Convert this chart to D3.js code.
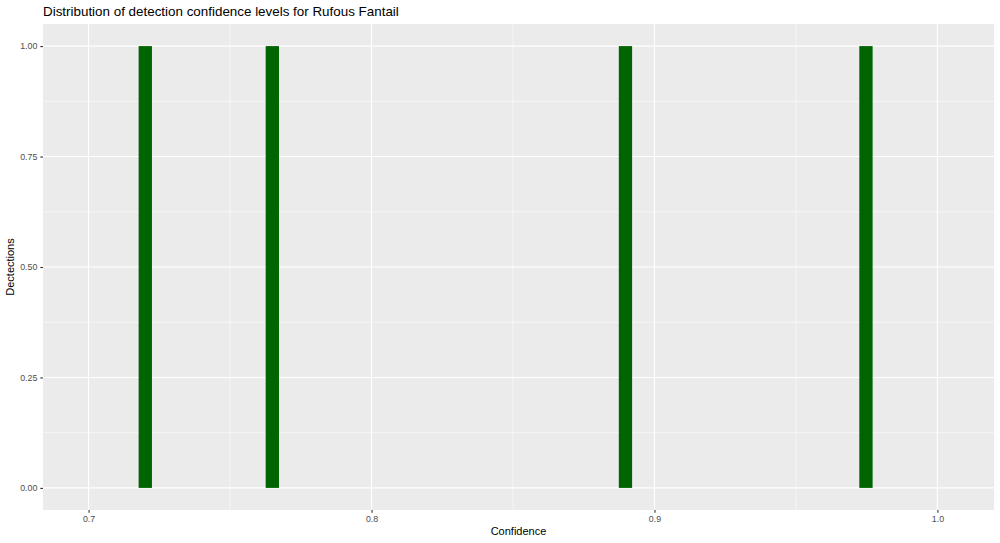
<!DOCTYPE html>
<html><head><meta charset="utf-8">
<script src="https://cdn.jsdelivr.net/npm/d3@7"></script>
<style>body{margin:0;background:#fff}svg{display:block}text{font-family:"Liberation Sans",Arial,sans-serif}</style>
</head><body><svg id="c" width="1000" height="543"></svg>
<script>
const binStarts = [0.7177, 0.7626, 0.8874, 0.9724];
const binEnds   = [0.7224, 0.7673, 0.8921, 0.9771];
const counts    = [1, 1, 1, 1];
const xTicks = [0.7, 0.8, 0.9, 1.0];
const xMinor = [0.75, 0.85, 0.95];
const yTicks = [0, 0.25, 0.5, 0.75, 1.0];
const yMinor = [0.125, 0.375, 0.625, 0.875];

const svg = d3.select("#c");
const L = 43, R = 994, T = 24, B = 510;
const x = d3.scaleLinear().domain([0.6839, 1.0200]).range([L, R]);
const y = d3.scaleLinear().domain([-0.05, 1.05]).range([B, T]);

svg.append("rect").attr("x", L).attr("y", T).attr("width", R - L).attr("height", B - T).attr("fill", "#ebebeb");
const g = svg.append("g");
g.selectAll(".xm").data(xMinor).join("line").attr("x1", d => x(d)).attr("x2", d => x(d)).attr("y1", T).attr("y2", B).attr("stroke", "#fff").attr("stroke-width", 0.55);
g.selectAll(".ym").data(yMinor).join("line").attr("y1", d => y(d)).attr("y2", d => y(d)).attr("x1", L).attr("x2", R).attr("stroke", "#fff").attr("stroke-width", 0.55);
g.selectAll(".xM").data(xTicks).join("line").attr("x1", d => x(d)).attr("x2", d => x(d)).attr("y1", T).attr("y2", B).attr("stroke", "#fff").attr("stroke-width", 1.1);
g.selectAll(".yM").data(yTicks).join("line").attr("y1", d => y(d)).attr("y2", d => y(d)).attr("x1", L).attr("x2", R).attr("stroke", "#fff").attr("stroke-width", 1.1);

svg.append("g").selectAll("rect").data(counts).join("rect")
  .attr("x", (d, i) => x(binStarts[i]))
  .attr("width", (d, i) => x(binEnds[i]) - x(binStarts[i]))
  .attr("y", d => y(d))
  .attr("height", d => y(0) - y(d))
  .attr("fill", "#006400");

const xa = svg.append("g").attr("transform", `translate(0,${B})`)
  .call(d3.axisBottom(x).tickValues(xTicks).tickFormat(d3.format(".1f")).tickSize(2.7).tickPadding(3));
const ya = svg.append("g").attr("transform", `translate(${L},0)`)
  .call(d3.axisLeft(y).tickValues(yTicks).tickFormat(d3.format(".2f")).tickSize(2.7).tickPadding(3));
[xa, ya].forEach(a => {
  a.select(".domain").remove();
  a.selectAll(".tick line").attr("stroke", "#333").attr("stroke-width", 1.1);
  a.selectAll(".tick text").attr("fill", "#4d4d4d").style("font-size", "8.8px");
});

svg.append("text").attr("x", L).attr("y", 16).attr("font-size", "13.4px").attr("fill", "#000").text("Distribution of detection confidence levels for Rufous Fantail");
svg.append("text").attr("x", (L + R) / 2).attr("y", 535).attr("text-anchor", "middle").attr("font-size", "11px").attr("fill", "#000").text("Confidence");
svg.append("text").attr("transform", `translate(14,${(T + B) / 2}) rotate(-90)`).attr("text-anchor", "middle").attr("font-size", "11px").attr("fill", "#000").text("Dectections");
</script></body></html>
